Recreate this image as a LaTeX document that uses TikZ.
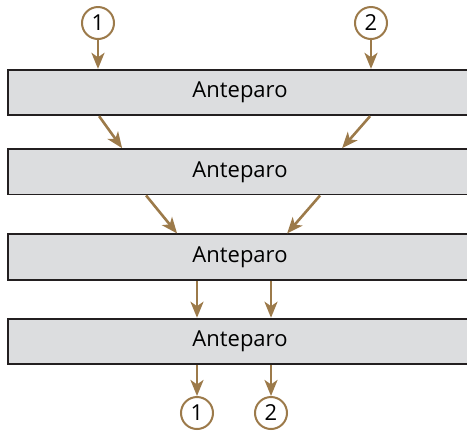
\documentclass[tikz,border=0pt]{standalone}
\usepackage{fontspec}
\setmainfont{Open Sans}
\usepackage{tikz}
\usetikzlibrary{arrows.meta,positioning,calc}

\definecolor{wallgray}{RGB}{220,221,223}
\definecolor{wallline}{RGB}{35,31,32}
\definecolor{flowbrown}{RGB}{156,122,74}

\begin{document}
\begin{tikzpicture}[
  x=0.5pt, y=-0.5pt,
  font=\fontsize{11}{13}\selectfont,
  >={Stealth[length=8pt,width=6.5pt,inset=2.2pt]},
  % Block styles
  baffle/.style={
    draw=wallline, fill=wallgray, line width=0.9pt,
    minimum width=232pt, minimum height=22.75pt, inner sep=0pt
  },
  port/.style={
    circle, draw=flowbrown, fill=white, line width=1pt,
    minimum size=16pt, inner sep=0pt
  },
  flow/.style={->, draw=flowbrown, line width=1.3pt}
]
\useasboundingbox (0,0) rectangle (467,430);

% ── Baffles ──────────────────────────────────────────────────────────────────
\node[baffle] (b1) at (240,92.5) {Anteparo};
\node[baffle, below=16pt of b1]   (b2) {Anteparo};
\node[baffle, below=19pt of b2]   (b3) {Anteparo};
\node[baffle, below=18.5pt of b3] (b4) {Anteparo};

% ── Inlet / outlet ports ─────────────────────────────────────────────────────
\node[port] (in1) at (98,23)   {1};
\node[port] (in2) at (371,23)  {2};
\node[port] (out1) at (197,413) {1};
\node[port] (out2) at (271,413) {2};

% ── Arrows: ports -> first baffle ────────────────────────────────────────────
\draw[flow] (in1.south) -- (in1 |- b1.north);
\draw[flow] (in2.south) -- (in2 |- b1.north);

% ── Arrows: converging between baffles ───────────────────────────────────────
\draw[flow] ($(b1.south west)+(92,0)$)  -- ($(b2.north west)+(115,0)$);
\draw[flow] ($(b1.south west)+(363,0)$) -- ($(b2.north west)+(335,0)$);
\draw[flow] ($(b2.south west)+(139,0)$) -- ($(b3.north west)+(170,0)$);
\draw[flow] ($(b2.south west)+(313,0)$) -- ($(b3.north west)+(280,0)$);

% ── Arrows: parallel to outlets ──────────────────────────────────────────────
\draw[flow] (out1 |- b3.south) -- (out1 |- b4.north);
\draw[flow] (out2 |- b3.south) -- (out2 |- b4.north);
\draw[flow] (out1 |- b4.south) -- (out1.north);
\draw[flow] (out2 |- b4.south) -- (out2.north);

\end{tikzpicture}
\end{document}
